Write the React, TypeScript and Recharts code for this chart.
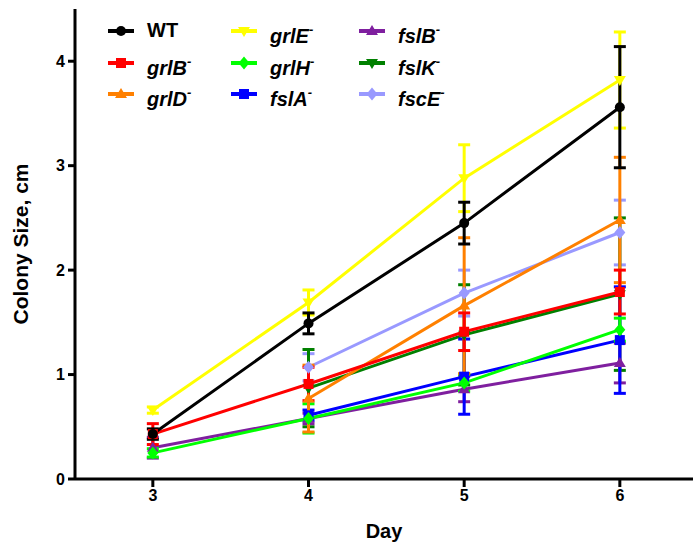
import { LineChart, Line, XAxis, YAxis, ErrorBar } from 'recharts'

const days = [3, 4, 5, 6]

// means (cm) per strain, null = not measured that day
const wtMean = [0.43, 1.49, 2.45, 3.56]
const grlBMean = [0.43, 0.91, 1.41, 1.79]
const grlDMean = [null, 0.77, 1.66, 2.48]
const grlEMean = [0.66, 1.69, 2.88, 3.82]
const grlHMean = [0.25, 0.58, 0.92, 1.43]
const fslAMean = [null, 0.61, 0.98, 1.33]
const fslBMean = [0.3, 0.58, 0.86, 1.11]
const fslKMean = [null, 0.87, 1.38, 1.77]
const fscEMean = [null, 1.07, 1.78, 2.36]

// error bars (± cm)
const wtErr = [0.05, 0.1, 0.2, 0.58]
const grlBErr = [0.1, 0.16, 0.18, 0.21]
const grlDErr = [null, 0.32, 0.65, 0.6]
const grlEErr = [0.03, 0.12, 0.32, 0.46]
const grlHErr = [0.04, 0.14, 0.08, 0.11]
const fslAErr = [null, 0.05, 0.36, 0.51]
const fslBErr = [0.1, 0.05, 0.12, 0.19]
const fslKErr = [null, 0.37, 0.48, 0.73]
const fscEErr = [null, 0.13, 0.22, 0.31]

type Shape = 'circle' | 'square' | 'up' | 'down' | 'diamond'

const series: { key: string; name: string; sup: boolean; color: string; shape: Shape; mean: (number | null)[]; err: (number | null)[] }[] = [
  { key: 'wt', name: 'WT', sup: false, color: '#000000', shape: 'circle', mean: wtMean, err: wtErr },
  { key: 'grlB', name: 'grlB', sup: true, color: '#ff0000', shape: 'square', mean: grlBMean, err: grlBErr },
  { key: 'grlD', name: 'grlD', sup: true, color: '#ff8000', shape: 'up', mean: grlDMean, err: grlDErr },
  { key: 'grlE', name: 'grlE', sup: true, color: '#ffff00', shape: 'down', mean: grlEMean, err: grlEErr },
  { key: 'grlH', name: 'grlH', sup: true, color: '#00ff00', shape: 'diamond', mean: grlHMean, err: grlHErr },
  { key: 'fslA', name: 'fslA', sup: true, color: '#0000ff', shape: 'square', mean: fslAMean, err: fslAErr },
  { key: 'fslB', name: 'fslB', sup: true, color: '#7f1f9f', shape: 'up', mean: fslBMean, err: fslBErr },
  { key: 'fslK', name: 'fslK', sup: true, color: '#008000', shape: 'down', mean: fslKMean, err: fslKErr },
  { key: 'fscE', name: 'fscE', sup: true, color: '#9999ff', shape: 'diamond', mean: fscEMean, err: fscEErr },
]

const rows = days.map((day, i) => {
  const row: Record<string, number | null> = { day }
  series.forEach((s) => {
    row[s.key] = s.mean[i]
    row[s.key + 'Err'] = s.err[i]
  })
  return row
})

const font = '"Liberation Sans", Arial, sans-serif'

function Marker({ shape, cx, cy, color, r = 5 }: { shape: Shape; cx: number; cy: number; color: string; r?: number }) {
  if (shape === 'circle') return <circle cx={cx} cy={cy} r={r} fill={color} />
  if (shape === 'square') return <rect x={cx - r} y={cy - r} width={r * 2} height={r * 2} fill={color} />
  if (shape === 'up')
    return <polygon points={`${cx},${cy - r * 1.2} ${cx + r * 1.2},${cy + r * 0.8} ${cx - r * 1.2},${cy + r * 0.8}`} fill={color} />
  if (shape === 'down')
    return <polygon points={`${cx},${cy + r * 1.2} ${cx + r * 1.2},${cy - r * 0.8} ${cx - r * 1.2},${cy - r * 0.8}`} fill={color} />
  return <polygon points={`${cx},${cy - r * 1.3} ${cx + r * 1.1},${cy} ${cx},${cy + r * 1.3} ${cx - r * 1.1},${cy}`} fill={color} />
}

// legend: three columns, positions in page px
const legendCols = [107, 230, 358]
const legendRows = [31, 63, 94]

function LegendItem({ s, idx }: { s: (typeof series)[number]; idx: number }) {
  const col = Math.floor(idx / 3)
  const row = idx % 3
  const x = legendCols[col]
  const y = legendRows[row]
  return (
    <div style={{ position: 'absolute', left: x, top: y - 10, height: 20, whiteSpace: 'nowrap' }}>
      <svg width={28} height={20} style={{ position: 'absolute', left: 0, top: 0 }}>
        <line x1={1} y1={10} x2={27} y2={10} stroke={s.color} strokeWidth={4} />
        <Marker shape={s.shape} cx={14} cy={10} color={s.color} r={5} />
      </svg>
      <div
        style={{
          position: 'absolute',
          left: 40,
          top: s.sup ? 4 : -2,
          fontFamily: font,
          fontWeight: 'bold',
          fontStyle: s.sup ? 'italic' : 'normal',
          fontSize: 20,
          lineHeight: '22px',
          color: '#000',
        }}
      >
        {s.name}
        {s.sup && <span style={{ fontSize: 13, position: 'relative', top: -9 }}>-</span>}
      </div>
    </div>
  )
}

export default function App() {
  return (
    <div style={{ position: 'absolute', left: 0, top: 0, width: 693, height: 542, background: '#fff' }}>
      <LineChart width={693} height={542} data={rows} margin={{ top: 9, right: 0, bottom: 0, left: 0 }}>
        <XAxis
          dataKey="day"
          type="number"
          domain={[2.5, 6.47]}
          ticks={days}
          allowDataOverflow
          height={63}
          stroke="#000"
          strokeWidth={3}
          tickSize={8}
          tickMargin={3}
          tick={{ fill: '#000', fontSize: 16, fontWeight: 'bold', fontFamily: font }}
          label={{ value: 'Day', position: 'insideBottom', offset: 4, fill: '#000', fontSize: 20, fontWeight: 'bold', fontFamily: font }}
        />
        <YAxis
          type="number"
          domain={[0, 4.5]}
          ticks={[0, 1, 2, 3, 4]}
          width={75}
          stroke="#000"
          strokeWidth={3}
          tickSize={7}
          tickMargin={3}
          tick={{ fill: '#000', fontSize: 16, fontWeight: 'bold', fontFamily: font }}
          label={{
            content: ({ viewBox }: any) => {
              const cy = viewBox.y + viewBox.height / 2
              return (
                <text
                  x={20}
                  y={cy}
                  transform={`rotate(-90 20 ${cy})`}
                  textAnchor="middle"
                  dominantBaseline="central"
                  fill="#000"
                  fontSize={21}
                  fontWeight="bold"
                  fontFamily={font}
                >
                  Colony Size, cm
                </text>
              )
            },
          }}
        />
        {[...series].reverse().map((s) => (
          <Line
            key={s.key}
            dataKey={s.key}
            stroke={s.color}
            strokeWidth={3}
            isAnimationActive={false}
            connectNulls={false}
            dot={(p: any) =>
              p.cx == null || p.cy == null || p.value == null ? (
                <g key={`${s.key}-${p.index}`} />
              ) : (
                <g key={`${s.key}-${p.index}`}>
                  <Marker shape={s.shape} cx={p.cx} cy={p.cy} color={s.color} r={5} />
                </g>
              )
            }
            activeDot={false}
          >
            <ErrorBar dataKey={s.key + 'Err'} direction="y" width={6} stroke={s.color} strokeWidth={3} />
          </Line>
        ))}
      </LineChart>
      {series.map((s, i) => (
        <LegendItem key={s.key} s={s} idx={i} />
      ))}
    </div>
  )
}
